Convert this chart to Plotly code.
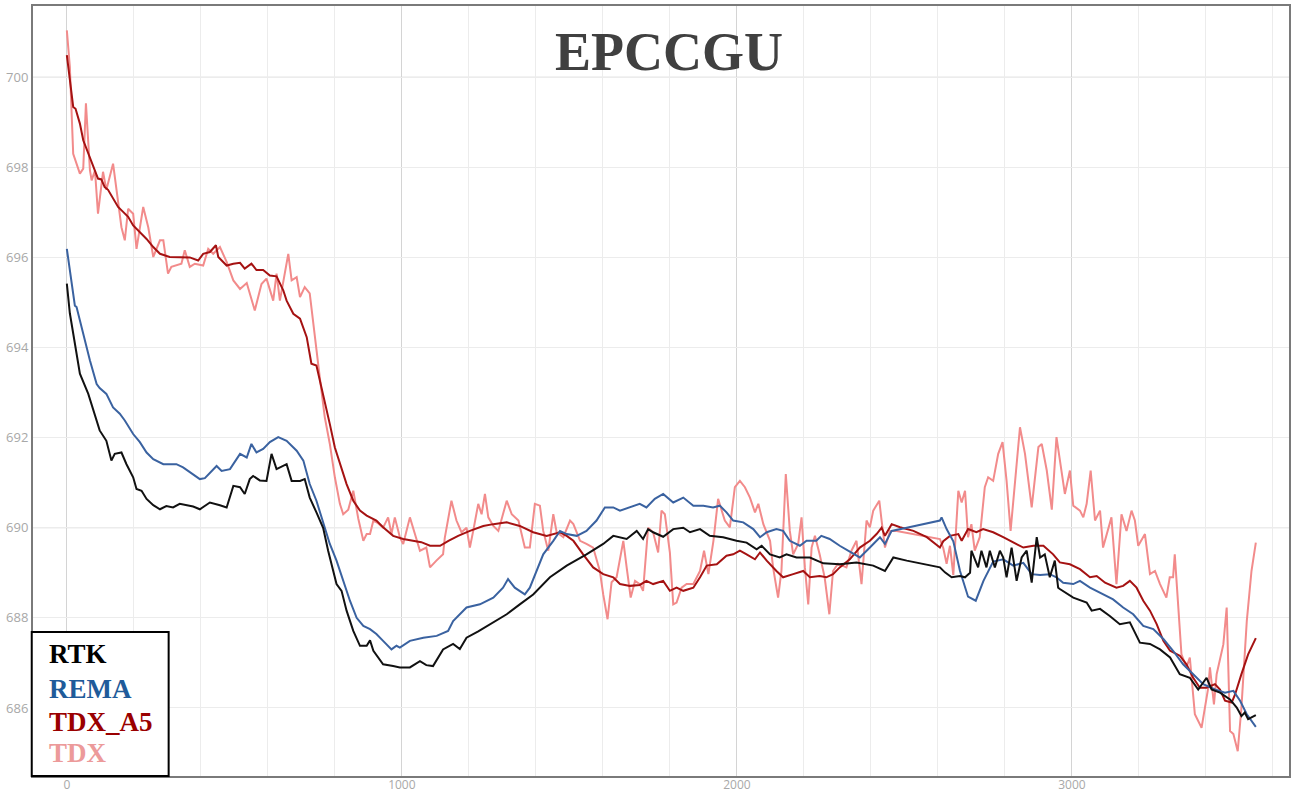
import plotly.graph_objects as go

# ---------------- data ----------------
rtk_x = [0, 9, 39, 64, 98, 118, 133, 143, 163, 178, 198, 208, 223, 238, 258, 278, 297, 317, 337, 357, 377, 397,
         427, 457, 477, 497, 517, 531, 546, 556, 576, 596, 611, 626, 641, 656, 671, 696, 710, 725, 745, 765, 780,
         795, 805, 820, 835, 855, 875, 895, 905, 915, 944, 974, 994, 1024, 1054, 1073, 1093, 1123, 1153, 1173,
         1193, 1228, 1263, 1313, 1352, 1392, 1442, 1492, 1551, 1601, 1631, 1671, 1701, 1720, 1735, 1750, 1780,
         1810, 1840, 1860, 1890, 1919, 1959, 1999, 2029, 2059, 2074, 2099, 2128, 2148, 2178, 2218, 2258, 2307,
         2357, 2407, 2442, 2467, 2507, 2606, 2621, 2641, 2666, 2681, 2696, 2700, 2720, 2730, 2745, 2755, 2770,
         2785, 2795, 2805, 2820, 2835, 2850, 2865, 2880, 2895, 2905, 2919, 2934, 2949, 2959, 2964, 3004, 3044,
         3059, 3084, 3113, 3143, 3173, 3203, 3233, 3263, 3293, 3322, 3352, 3377, 3402, 3417, 3442, 3472, 3492,
         3506, 3516, 3526, 3549]
rtk_y = [695.42, 694.76, 693.42, 692.97, 692.16, 691.93, 691.49, 691.64, 691.67, 691.41, 691.12, 690.86, 690.82,
         690.64, 690.50, 690.41, 690.48, 690.45, 690.53, 690.50, 690.47, 690.41, 690.56, 690.50, 690.45, 690.93,
         690.90, 690.75, 691.08, 691.15, 691.05, 691.04, 691.64, 691.30, 691.35, 691.41, 691.04, 691.04, 691.08,
         690.67, 690.34, 690.00, 689.49, 689.04, 688.75, 688.60, 688.16, 687.71, 687.38, 687.38, 687.50, 687.27,
         686.97, 686.93, 686.90, 686.90, 687.04, 686.95, 686.93, 687.30, 687.42, 687.31, 687.56, 687.70, 687.86,
         688.08, 688.30, 688.52, 688.90, 689.16, 689.41, 689.64, 689.82, 689.75, 689.93, 689.75, 689.97, 689.90,
         689.80, 689.97, 690.00, 689.90, 689.97, 689.82, 689.79, 689.71, 689.67, 689.52, 689.60, 689.41, 689.34,
         689.41, 689.34, 689.34, 689.21, 689.19, 689.23, 689.16, 689.04, 689.34, 689.27, 689.12, 689.01, 688.90,
         688.93, 688.90, 689.00, 689.49, 689.12, 689.49, 689.12, 689.49, 689.12, 689.49, 689.34, 688.90, 689.56,
         688.82, 689.34, 689.49, 688.78, 689.79, 689.34, 689.41, 688.90, 689.27, 688.67, 688.64, 688.45, 688.34,
         688.16, 688.20, 688.04, 687.86, 687.90, 687.45, 687.42, 687.30, 687.12, 686.75, 686.67, 686.41, 686.67,
         686.41, 686.34, 686.19, 686.01, 685.82, 685.90, 685.75, 685.84]

rema_x = [0, 9, 24, 29, 49, 69, 89, 98, 118, 138, 158, 173, 198, 218, 238, 258, 288, 327, 347, 377, 397, 412, 437,
          447, 462, 487, 517, 537, 551, 566, 586, 606, 631, 656, 686, 706, 725, 745, 770, 785, 805, 825, 845, 865,
          885, 905, 924, 944, 969, 984, 994, 1024, 1064, 1104, 1138, 1153, 1193, 1233, 1273, 1302, 1317, 1337,
          1367, 1382, 1402, 1422, 1452, 1472, 1492, 1522, 1551, 1581, 1606, 1631, 1651, 1681, 1710, 1730, 1755,
          1780, 1810, 1840, 1870, 1900, 1929, 1949, 1969, 1989, 2019, 2049, 2069, 2089, 2118, 2138, 2158, 2188,
          2208, 2237, 2252, 2277, 2307, 2337, 2367, 2397, 2427, 2442, 2462, 2507, 2606, 2611, 2626, 2646, 2666,
          2690, 2713, 2736, 2765, 2795, 2825, 2855, 2880, 2905, 2934, 2954, 2974, 3004, 3024, 3054, 3084, 3123,
          3153, 3183, 3213, 3243, 3273, 3302, 3332, 3362, 3392, 3427, 3457, 3482, 3502, 3522, 3549]
rema_y = [696.19, 695.71, 694.93, 694.90, 694.30, 693.71, 693.19, 693.10, 692.97, 692.67, 692.53, 692.38, 692.08,
          691.90, 691.67, 691.52, 691.41, 691.41, 691.34, 691.19, 691.08, 691.10, 691.30, 691.37, 691.26, 691.30,
          691.64, 691.56, 691.86, 691.67, 691.75, 691.90, 692.01, 691.93, 691.71, 691.49, 690.97, 690.60, 690.00,
          689.64, 689.27, 688.82, 688.38, 688.00, 687.82, 687.75, 687.64, 687.49, 687.30, 687.38, 687.34, 687.49,
          687.56, 687.60, 687.71, 687.93, 688.23, 688.30, 688.45, 688.67, 688.86, 688.67, 688.52, 688.67, 689.04,
          689.41, 689.71, 689.93, 689.86, 689.82, 689.93, 690.16, 690.45, 690.45, 690.38, 690.45, 690.53, 690.45,
          690.64, 690.75, 690.56, 690.67, 690.49, 690.49, 690.45, 690.49, 690.34, 690.16, 690.12, 689.97, 689.79,
          689.90, 689.97, 689.93, 689.71, 689.60, 689.71, 689.71, 689.82, 689.75, 689.60, 689.47, 689.34, 689.56,
          689.79, 689.64, 689.93, 690.00, 690.16, 690.23, 689.97, 689.70, 689.04, 688.47, 688.38, 688.82, 689.25,
          689.30, 689.16, 689.22, 688.97, 688.95, 688.97, 688.90, 688.78, 688.75, 688.82, 688.67, 688.56, 688.41,
          688.23, 688.08, 687.82, 687.75, 687.53, 687.27, 686.97, 686.75, 686.53, 686.41, 686.34, 686.38, 686.16,
          685.86, 685.58]

a5_x = [0, 9, 19, 26, 39, 49, 64, 79, 93, 103, 113, 123, 138, 153, 168, 183, 198, 218, 238, 258, 278, 307, 337,
        367, 392, 407, 427, 445, 452, 477, 497, 517, 531, 551, 566, 586, 606, 626, 646, 656, 676, 696, 716, 730,
        745, 765, 785, 800, 815, 835, 855, 875, 895, 924, 944, 974, 1004, 1034, 1058, 1084, 1114, 1139, 1168, 1203,
        1243, 1273, 1313, 1352, 1392, 1432, 1472, 1492, 1512, 1541, 1571, 1601, 1631, 1651, 1681, 1710, 1730, 1750,
        1780, 1800, 1820, 1840, 1870, 1890, 1910, 1940, 1969, 1989, 2009, 2029, 2054, 2069, 2089, 2118, 2138, 2168,
        2198, 2218, 2247, 2267, 2287, 2307, 2337, 2367, 2397, 2417, 2432, 2442, 2462, 2487, 2527, 2567, 2606, 2616,
        2636, 2661, 2671, 2690, 2715, 2735, 2765, 2795, 2825, 2855, 2885, 2915, 2944, 2964, 2994, 3024, 3054, 3074,
        3099, 3133, 3153, 3173, 3193, 3213, 3233, 3253, 3273, 3293, 3322, 3342, 3362, 3382, 3402, 3427, 3442, 3457,
        3477, 3487, 3506, 3526, 3549]
a5_y = [700.49, 700.00, 699.34, 699.30, 698.97, 698.60, 698.30, 698.01, 697.75, 697.73, 697.56, 697.50, 697.30,
        697.12, 697.01, 696.90, 696.71, 696.56, 696.41, 696.23, 696.08, 696.01, 696.01, 696.00, 695.93, 696.08,
        696.12, 696.27, 696.01, 695.82, 695.86, 695.88, 695.75, 695.86, 695.72, 695.72, 695.60, 695.58, 695.27,
        695.04, 694.75, 694.64, 694.23, 693.64, 693.60, 692.97, 692.30, 691.78, 691.41, 690.97, 690.60, 690.38,
        690.27, 690.16, 690.01, 689.82, 689.75, 689.71, 689.68, 689.60, 689.60, 689.71, 689.82, 689.93, 690.04,
        690.08, 690.12, 690.04, 689.90, 689.82, 689.90, 689.82, 689.71, 689.41, 689.12, 688.97, 688.90, 688.75,
        688.71, 688.73, 688.82, 688.75, 688.82, 688.60, 688.67, 688.60, 688.67, 688.90, 689.16, 689.19, 689.38,
        689.41, 689.49, 689.41, 689.30, 689.45, 689.27, 689.04, 688.90, 688.97, 689.04, 688.90, 688.93, 688.90,
        688.97, 689.12, 689.30, 689.56, 689.71, 689.86, 690.00, 689.82, 690.08, 690.01, 689.93, 689.79, 689.56,
        689.70, 689.82, 689.86, 689.71, 689.97, 689.90, 689.97, 689.90, 689.79, 689.68, 689.56, 689.60, 689.60,
        689.41, 689.23, 689.19, 689.08, 688.90, 688.93, 688.78, 688.67, 688.71, 688.82, 688.67, 688.38, 688.16,
        687.86, 687.49, 687.27, 687.16, 686.97, 686.67, 686.45, 686.45, 686.53, 686.41, 686.16, 686.12, 686.30,
        686.75, 687.19, 687.55]

tdx_x = [0, 9, 19, 39, 49, 57, 69, 74, 84, 93, 108, 118, 138, 148, 163, 173, 183, 198, 208, 228, 243, 258, 278,
         288, 302, 312, 342, 352, 367, 382, 407, 422, 437, 457, 477, 497, 517, 537, 561, 581, 596, 616, 626, 636,
         661, 671, 686, 696, 710, 725, 740, 755, 770, 785, 800, 815, 825, 840, 855, 870, 885, 895, 905, 915, 929,
         944, 959, 969, 979, 994, 1004, 1024, 1039, 1054, 1073, 1084, 1103, 1123, 1128, 1148, 1163, 1178, 1193,
         1203, 1213, 1228, 1238, 1248, 1258, 1273, 1288, 1313, 1328, 1348, 1367, 1382, 1397, 1412, 1422, 1437,
         1452, 1462, 1482, 1502, 1512, 1532, 1551, 1571, 1591, 1601, 1614, 1626, 1641, 1661, 1671, 1683, 1696,
         1710, 1720, 1735, 1750, 1765, 1775, 1785, 1800, 1810, 1820, 1835, 1850, 1870, 1890, 1902, 1915, 1930,
         1944, 1964, 1979, 1994, 2009, 2024, 2039, 2054, 2064, 2079, 2099, 2108, 2123, 2133, 2146, 2158, 2168,
         2183, 2193, 2203, 2213, 2223, 2233, 2247, 2262, 2276, 2287, 2302, 2327, 2342, 2357, 2372, 2387, 2397,
         2407, 2425, 2432, 2442, 2457, 2477, 2606, 2616, 2626, 2636, 2646, 2661, 2671, 2681, 2690, 2700, 2710,
         2725, 2740, 2750, 2765, 2780, 2793, 2805, 2817, 2830, 2845, 2860, 2880, 2900, 2910, 2925, 2940, 2954,
         2969, 2979, 2994, 3004, 3024, 3034, 3044, 3056, 3069, 3084, 3093, 3108, 3118, 3133, 3148, 3163, 3178,
         3188, 3198, 3218, 3233, 3248, 3263, 3282, 3292, 3302, 3307, 3327, 3342, 3352, 3367, 3387, 3407, 3412,
         3424, 3432, 3452, 3462, 3472, 3482, 3495, 3506, 3522, 3536, 3549]
tdx_y = [701.04, 700.23, 698.30, 697.86, 697.97, 699.42, 697.93, 697.71, 697.93, 696.97, 697.90, 697.50, 698.08,
         697.56, 696.67, 696.38, 697.08, 696.97, 696.19, 697.12, 696.67, 696.01, 696.38, 696.38, 695.64, 695.79,
         695.86, 696.16, 695.79, 695.86, 695.82, 696.19, 696.08, 696.23, 695.90, 695.49, 695.30, 695.43, 694.82,
         695.41, 695.53, 695.04, 695.64, 695.04, 696.08, 695.49, 695.56, 695.12, 695.34, 695.20, 694.23, 693.34,
         692.45, 691.86, 691.12, 690.53, 690.30, 690.40, 690.82, 690.20, 689.71, 689.86, 689.86, 690.16, 690.10,
         690.00, 690.23, 689.86, 690.23, 689.79, 689.64, 690.23, 689.86, 689.49, 689.56, 689.12, 689.27, 689.41,
         689.77, 690.60, 690.16, 689.90, 690.00, 689.56, 689.93, 690.53, 690.30, 690.75, 690.23, 690.04, 689.93,
         690.60, 690.30, 690.16, 689.56, 689.56, 690.53, 690.49, 689.93, 689.49, 690.30, 689.90, 689.79, 690.16,
         690.08, 689.71, 689.64, 689.56, 689.04, 688.52, 687.97, 688.79, 688.90, 689.71, 689.12, 688.45, 688.82,
         688.75, 688.60, 690.00, 689.90, 689.45, 690.38, 690.30, 689.45, 688.30, 688.34, 688.67, 688.75, 688.75,
         689.04, 689.49, 688.97, 689.71, 690.64, 690.16, 690.01, 690.90, 691.04, 690.90, 690.67, 690.34, 690.53,
         690.08, 689.71, 689.12, 688.45, 689.04, 691.19, 689.93, 689.41, 689.64, 690.23, 689.12, 688.30, 689.56,
         689.82, 689.41, 688.90, 688.08, 689.04, 689.20, 689.12, 689.49, 689.71, 688.75, 690.16, 690.01, 690.38,
         690.60, 690.16, 689.56, 689.93, 689.93, 689.75, 689.55, 689.20, 689.60, 688.95, 690.82, 690.56, 690.82,
         689.79, 690.08, 689.49, 689.79, 690.90, 691.12, 691.04, 691.64, 691.90, 691.04, 689.93, 690.97, 692.23,
         691.64, 690.45, 691.79, 691.86, 691.27, 690.40, 692.01, 691.27, 690.75, 691.27, 690.49, 690.38, 690.23,
         690.53, 691.27, 690.16, 690.38, 689.56, 689.93, 690.23, 688.75, 690.30, 689.93, 690.38, 690.16, 689.60,
         689.86, 688.97, 689.04, 688.75, 688.45, 688.90, 688.90, 689.41, 687.19, 686.90, 687.12, 685.86, 685.56,
         686.45, 686.90, 686.08, 686.75, 687.41, 688.23, 685.49, 685.42, 685.04, 686.01, 687.93, 689.04, 689.67]

x_ticks = [0, 1000, 2000, 3000]
y_ticks = [686, 688, 690, 692, 694, 696, 698, 700]
y_major_grid = [690, 700]

names = ["RTK", "REMA", "TDX_A5", "TDX"]
line_colors = {"RTK": "#111111", "REMA": "#3a62a0", "TDX_A5": "#a51212", "TDX": "#f28b8b"}
text_colors = {"RTK": "#000000", "REMA": "#1f5b9a", "TDX_A5": "#9a0000", "TDX": "#ec9a9a"}

# ---------------- figure ----------------
fig = go.Figure()
fig.add_trace(go.Scatter(x=tdx_x, y=tdx_y, mode="lines", name="TDX",
                         line=dict(color=line_colors["TDX"], width=2)))
fig.add_trace(go.Scatter(x=a5_x, y=a5_y, mode="lines", name="TDX_A5",
                         line=dict(color=line_colors["TDX_A5"], width=2)))
fig.add_trace(go.Scatter(x=rema_x, y=rema_y, mode="lines", name="REMA",
                         line=dict(color=line_colors["REMA"], width=2)))
fig.add_trace(go.Scatter(x=rtk_x, y=rtk_y, mode="lines", name="RTK",
                         line=dict(color=line_colors["RTK"], width=2)))

tick_font = dict(family="Open Sans, sans-serif", size=12, color="#a8a8a8")

fig.update_xaxes(range=[-101, 3648], tickvals=x_ticks, showgrid=True, gridcolor="#d4d4d4", gridwidth=1,
                 minor=dict(dtick=200, tick0=0, showgrid=True, gridcolor="#ececec", gridwidth=1),
                 zeroline=False, showline=True, mirror=True, linecolor="#7a7a7a", linewidth=2,
                 ticks="", tickfont=tick_font, automargin=False, ticklabelstandoff=-3)
fig.update_yaxes(range=[684.49, 701.58], tickvals=y_ticks, showgrid=True, gridcolor="#ececec", gridwidth=1,
                 zeroline=False, showline=True, mirror=True, linecolor="#7a7a7a", linewidth=2,
                 ticks="", tickfont=dict(family="Open Sans, sans-serif", size=13, color="#a8a8a8"),
                 automargin=False)

shapes = []
for yv in y_major_grid:
    shapes.append(dict(type="line", xref="paper", yref="y", x0=0, x1=1, y0=yv, y1=yv,
                       line=dict(color="#d4d4d4", width=1), layer="below"))
# legend box
shapes.append(dict(type="rect", xref="paper", yref="paper", x0=-0.001, x1=0.108, y0=0.0, y1=0.187,
                   line=dict(color="#000000", width=2), fillcolor="white", layer="above"))

annotations = [dict(text="<b>EPCCGU</b>", xref="paper", yref="paper", x=0.5064, y=0.940,
                    xanchor="center", yanchor="middle", showarrow=False,
                    font=dict(family="Liberation Serif, Times New Roman, serif", size=54, color="#404040"))]
legend_y = [0.1584, 0.113, 0.0701, 0.0299]
for nm, ly in zip(names, legend_y):
    annotations.append(dict(text="<b>" + nm + "</b>", xref="paper", yref="paper", x=0.0111, y=ly,
                            xanchor="left", yanchor="middle", showarrow=False,
                            font=dict(family="Liberation Serif, Times New Roman, serif", size=27,
                                      color=text_colors[nm])))

fig.update_layout(width=1293, height=792, margin=dict(l=33, r=4, t=6, b=16),
                  plot_bgcolor="white", paper_bgcolor="white", showlegend=False,
                  shapes=shapes, annotations=annotations)

fig.write_html("out.html")
